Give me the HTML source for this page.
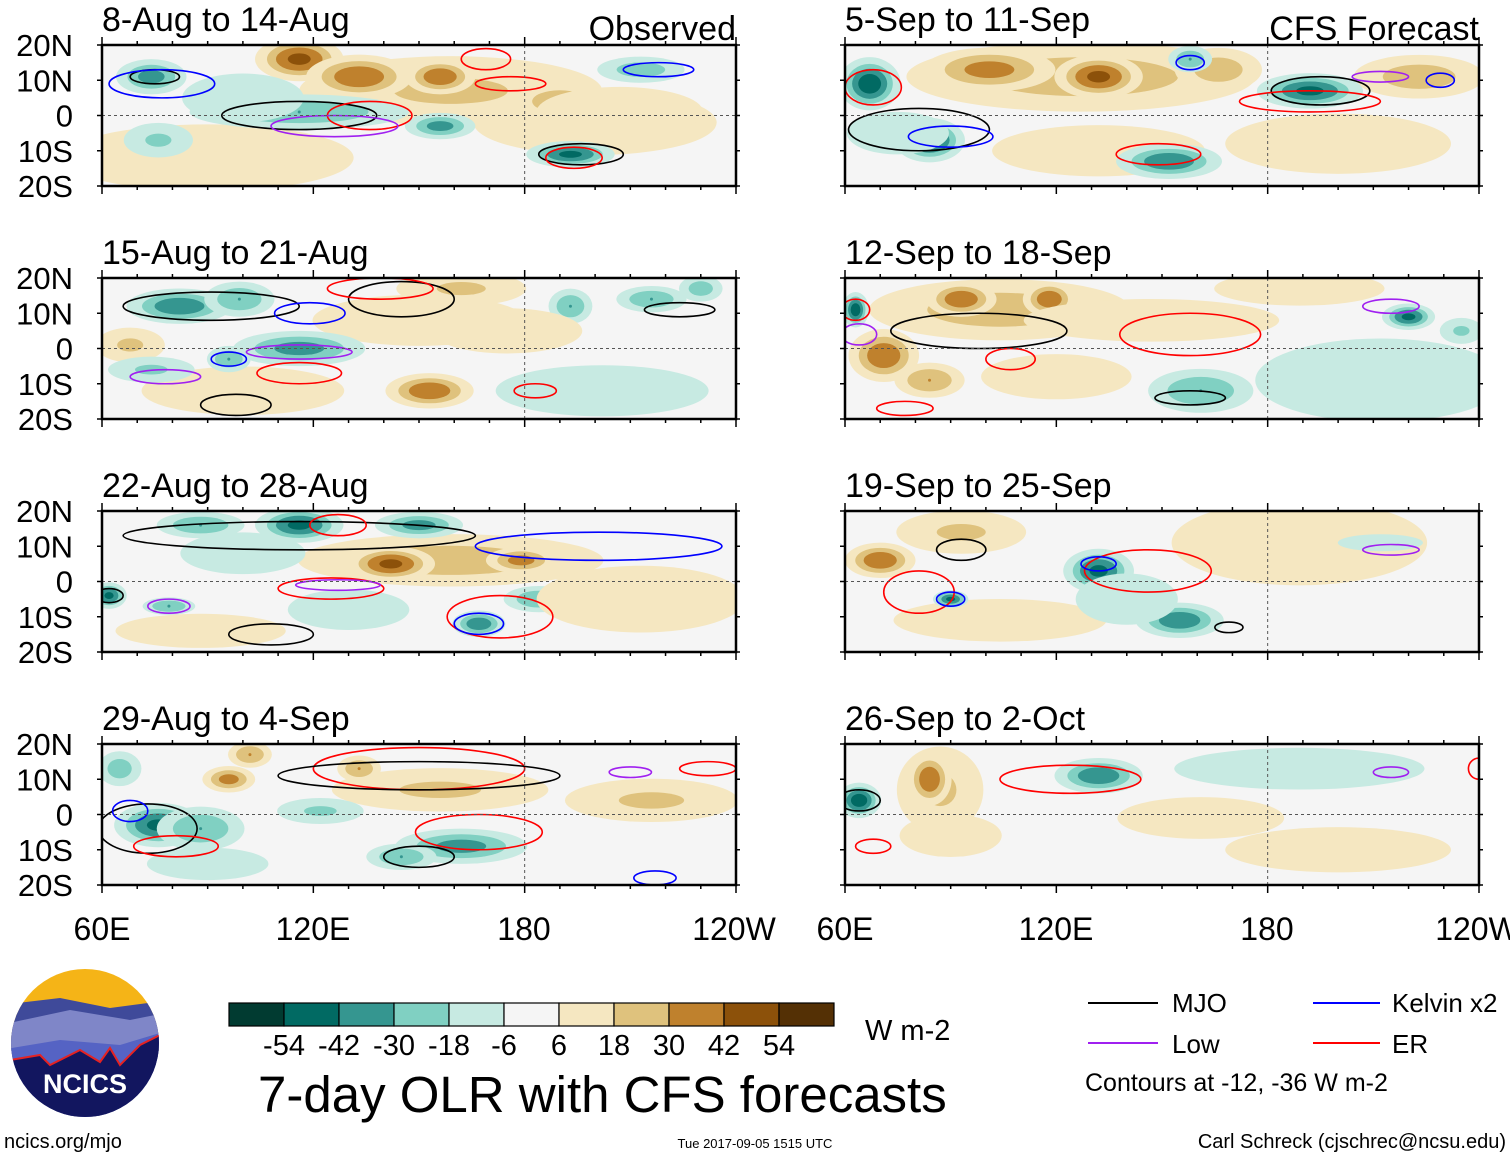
<!DOCTYPE html>
<html><head><meta charset="utf-8"><style>
body{margin:0;background:#fff;}
svg{display:block;font-family:"Liberation Sans",sans-serif;}
</style></head><body>
<svg id="c" width="1510" height="1158" viewBox="0 0 1510 1158" xmlns="http://www.w3.org/2000/svg">
<g id="panels"></g>
<g font-size="32" text-anchor="middle">
<text x="102" y="940">60E</text><text x="313" y="940">120E</text><text x="524" y="940">180</text><text x="734" y="940">120W</text>
<text x="845" y="940">60E</text><text x="1056" y="940">120E</text><text x="1267" y="940">180</text><text x="1477" y="940">120W</text>
</g>
<g id="cbar"></g>
<text x="865" y="1040" font-size="29">W m-2</text>
<text x="258" y="1112" font-size="51">7-day OLR with CFS forecasts</text>
<g font-size="26">
<line x1="1088" y1="1003" x2="1158" y2="1003" stroke="#000" stroke-width="2"/><text x="1172" y="1012">MJO</text>
<line x1="1088" y1="1043" x2="1158" y2="1043" stroke="#a020f0" stroke-width="2"/><text x="1172" y="1053">Low</text>
<line x1="1313" y1="1003" x2="1380" y2="1003" stroke="#0000ff" stroke-width="2"/><text x="1392" y="1012">Kelvin x2</text>
<line x1="1313" y1="1043" x2="1380" y2="1043" stroke="#ff0000" stroke-width="2"/><text x="1392" y="1053">ER</text>
<text x="1085" y="1091" font-size="25">Contours at -12, -36 W m-2</text>
</g>
<g>
<defs><clipPath id="lc"><circle cx="85" cy="1043" r="74"/></clipPath></defs>
<g clip-path="url(#lc)">
<rect x="0" y="960" width="170" height="170" fill="#f5b417"/>
<path d="M0 1005 L60 998 L110 1008 L170 1000 L170 1130 L0 1130Z" fill="#3f4a9a"/>
<path d="M0 1025 L70 1010 L130 1020 L170 1012 L170 1130 L0 1130Z" fill="#7f86c8"/>
<path d="M0 1050 L60 1040 L120 1045 L170 1030 L170 1130 L0 1130Z" fill="#5563c4"/>
<path d="M10 1060 L40 1055 L50 1065 L80 1050 L100 1062 L110 1048 L120 1065 L140 1045 L170 1030 L170 1130 L0 1130Z" fill="#12165f" stroke="#e52222" stroke-width="2"/>
</g>
<text x="85" y="1093" font-size="27" font-weight="bold" fill="#fff" text-anchor="middle">NCICS</text>
</g>
<text x="4" y="1148" font-size="20">ncics.org/mjo</text>
<text x="755" y="1148" font-size="13" text-anchor="middle">Tue 2017-09-05 1515 UTC</text>
<text x="1506" y="1148" font-size="20" text-anchor="end">Carl Schreck (cjschrec@ncsu.edu)</text>
</svg>
<script>
// colorbar data
const cbarLabels = ["-54","-42","-30","-18","-6","6","18","30","42","54"];
const cbarColors = ["#013b31","#016a63","#359690","#80d0c2","#c7eae2","#f5f5f5","#f5e7c1","#dfc27d","#bf812d","#8c510a","#543005"];
const levels = [6,18,30,42,54];
const titles = ["8-Aug to 14-Aug","5-Sep to 11-Sep","15-Aug to 21-Aug","12-Sep to 18-Sep","22-Aug to 28-Aug","19-Sep to 25-Sep","29-Aug to 4-Sep","26-Sep to 2-Oct"];
// blobs: [lon, lat, value, rxDeg, ryDeg]
const blobs0 = [[159,7,20,35,8],[90,-12,12,35,8],[200,-2,10,30,8],[116,16,45,10,5],[133,11,40,12,5],[156,11,40,8,4],[190,4,30,10,4],[74,11,-35,8,4],[116,1,-30,25,4],[156,-3,-35,8,3],[193,-11,-45,10,3],[213,13,-25,10,3],[88,-15,15,20,4],[76,-7,-20,8,4],[207,1,12,20,6],[100,5,-10,15,6]];
const blobs1 = [[127,11,25,40,8],[101,13,35,15,5],[132,11,45,10,5],[166,13,25,10,5],[223,11,25,15,5],[132,-10,15,25,6],[200,-8,8,30,8],[67,9,-50,7,6],[84,-7,-50,8,5],[192,7,-45,12,4],[158,16,-30,5,3],[152,-13,-40,12,4],[75,-5,-15,12,5]];
const blobs2 = [[150,8,15,25,6],[162,17,20,15,4],[100,-12,10,25,6],[82,12,-40,12,4],[99,14,-30,8,4],[116,0,-35,15,4],[96,-3,-30,5,3],[153,-12,40,10,4],[193,12,-30,5,4],[216,14,-30,8,3],[230,17,-25,5,3],[68,1,20,8,4],[202,-12,-15,25,6],[74,-6,-20,10,3],[175,5,8,20,6]];
const blobs3 = [[104,11,25,30,7],[93,14,40,8,4],[118,14,40,6,4],[71,-2,40,8,6],[84,-9,30,8,4],[147,8,15,30,5],[220,9,-45,6,3],[212,-9,-12,30,10],[161,-12,-30,12,5],[63,11,-50,3,4],[189,17,15,20,4],[235,5,-20,5,3],[120,-8,8,20,6]];
const blobs4 = [[159,6,25,35,6],[116,16,-45,10,4],[150,16,-35,10,3],[88,16,-30,10,3],[142,5,45,10,4],[179,6,35,8,3],[184,-5,-30,8,3],[167,-12,-40,6,3],[62,-4,-45,4,3],[79,-7,-30,6,2],[88,-14,15,20,4],[213,-5,12,25,8],[100,8,-12,15,5],[130,-8,-10,15,5]];
const blobs5 = [[189,11,15,30,10],[104,-11,15,25,5],[70,6,40,8,4],[93,14,20,15,5],[90,-5,-45,4,2],[132,3,-45,8,5],[155,-11,-40,10,4],[212,11,-15,10,2],[140,-5,-15,12,6]];
const blobs6 = [[156,7,20,25,5],[216,4,20,20,5],[76,-3,-45,10,5],[88,-4,-30,10,5],[96,10,35,6,3],[102,17,30,5,3],[133,13,30,5,3],[162,-9,-35,15,4],[145,-12,-30,8,3],[65,13,-25,5,4],[122,1,-20,10,3],[90,-14,-10,15,4]];
const blobs7 = [[87,7,20,10,10],[161,-1,12,20,5],[189,13,-12,30,5],[64,4,-50,5,4],[84,10,40,5,6],[132,11,-40,10,4],[93,-5,30,5,3],[90,-6,15,12,5],[200,-10,8,30,6]];
// contours: [type, lon, lat, rxDeg, ryDeg]
const cont0 = [["m",75,11,7,2],["k",77,9,15,4],["e",169,16,7,3],["e",176,9,10,2],["k",218,13,10,2],["m",116,0,22,4],["e",136,0,12,4],["l",126,-3,18,3],["m",196,-11,12,3],["e",194,-12,8,3]];
const cont1 = [["m",81,-4,20,6],["k",90,-6,12,3],["e",68,8,8,5],["e",149,-11,12,3],["m",195,7,14,4],["e",192,4,20,3],["k",158,15,4,2],["l",212,11,8,1.5],["k",229,10,4,2]];
const cont2 = [["m",91,12,25,4],["m",145,14,15,5],["k",119,10,10,3],["e",139,17,15,3],["l",116,-1,15,2],["e",116,-7,12,3],["m",224,11,10,2],["e",183,-12,6,2],["l",78,-8,10,2],["k",96,-3,5,2],["m",98,-16,10,3]];
const cont3 = [["m",98,5,25,5],["e",158,4,20,6],["e",107,-3,7,3],["m",158,-14,10,2],["l",215,12,8,2],["l",64,4,5,3],["e",77,-17,8,2],["e",63,11,4,3]];
const cont4 = [["m",116,13,50,4],["e",127,16,8,3],["k",201,10,35,4],["e",173,-10,15,6],["e",125,-2,15,3],["l",127,-1,12,1.5],["k",167,-12,7,3],["m",108,-15,12,3],["m",62,-4,4,2],["l",79,-7,6,2]];
const cont5 = [["m",93,9,7,3],["e",81,-3,10,6],["k",90,-5,4,2],["e",146,3,18,6],["k",132,5,5,2],["m",169,-13,4,1.5],["l",215,9,8,1.5]];
const cont6 = [["m",73,-4,14,7],["e",81,-9,12,3],["k",68,1,5,3],["e",150,13,30,6],["m",150,11,40,4],["e",167,-5,18,5],["m",150,-12,10,3],["l",210,12,6,1.5],["e",232,13,8,2],["k",217,-18,6,2]];
const cont7 = [["m",64,4,6,3],["e",124,10,20,4],["e",68,-9,5,2],["l",215,12,5,1.5],["e",240,13,3,3]];
const allBlobs=[blobs0,blobs1,blobs2,blobs3,blobs4,blobs5,blobs6,blobs7];
const allCont=[cont0,cont1,cont2,cont3,cont4,cont5,cont6,cont7];
const ccol={m:"#000",k:"#0000ff",l:"#a020f0",e:"#ff0000"};
const NS="http://www.w3.org/2000/svg";
function el(t,a,p){const e=document.createElementNS(NS,t);for(const k in a)e.setAttribute(k,a[k]);if(p)p.appendChild(e);return e;}
const W=634,H=141,LON0=60,LON1=240,LAT0=20,LAT1=-20,SPREAD=1.3;
const xs=[102,845], ys=[45,278,511,744];
const root=document.getElementById('panels');
function colorFor(v,i){return v<0?cbarColors[4-i]:cbarColors[6+i];}
for(let p=0;p<8;p++){
  const X0=xs[p%2],Y0=ys[Math.floor(p/2)];
  const sx=lon=>X0+(lon-LON0)/(LON1-LON0)*W;
  const sy=lat=>Y0+(LAT0-lat)/(LAT0-LAT1)*H;
  const kx=W/(LON1-LON0), ky=H/(LAT0-LAT1);
  const g=el('g',{},root);
  
  
  const cp=el('clipPath',{id:'cp'+p},g);el('rect',{x:X0,y:Y0,width:W,height:H},cp);
  const m=el('g',{'clip-path':'url(#cp'+p+')'},g);
  el('rect',{x:X0,y:Y0,width:W,height:H,fill:'#f5f5f5'},m);
  for(const b of allBlobs[p]){
    const [lon,lat,v,rx,ry]=b; const a=Math.abs(v);
    const norm=Math.sqrt(Math.log(a/5));
    levels.forEach((t,i)=>{
      if(a<t)return;
      const r=Math.pow(Math.log(a/t)/Math.log(a/5),0.4);
      const e=el('ellipse',{cx:sx(lon),cy:sy(lat),rx:Math.max(1.5,rx*kx*r*SPREAD),ry:Math.max(1.5,ry*ky*r*SPREAD),fill:colorFor(v,i)},m);
      
      
    });
  }
  for(const c of allCont[p]){
    const [t,lon,lat,rx,ry]=c;
    const e=el('ellipse',{cx:sx(lon),cy:sy(lat),rx:rx*kx,ry:ry*ky,fill:'none',stroke:ccol[t],'stroke-width':1.6},m);
    
    
  }
  el('line',{x1:X0,y1:sy(0),x2:X0+W,y2:sy(0),stroke:'#555','stroke-dasharray':'3,3','stroke-width':1},m);
  el('line',{x1:sx(180),y1:Y0,x2:sx(180),y2:Y0+H,stroke:'#555','stroke-dasharray':'3,3','stroke-width':1},m);
  el('rect',{x:X0,y:Y0,width:W,height:H,fill:'none',stroke:'#000','stroke-width':2.5},g);
  for(let lon=60;lon<=240;lon+=10){const x=sx(lon),L=(lon%60==0)?8:4;
    el('line',{x1:x,y1:Y0,x2:x,y2:Y0-L,stroke:'#000','stroke-width':1.5},g);
    el('line',{x1:x,y1:Y0+H,x2:x,y2:Y0+H+L,stroke:'#000','stroke-width':1.5},g);}
  for(let lat=-20;lat<=20;lat+=10){const y=sy(lat);
    el('line',{x1:X0-5,y1:y,x2:X0,y2:y,stroke:'#000','stroke-width':1.5},g);
    el('line',{x1:X0+W,y1:y,x2:X0+W+4,y2:y,stroke:'#000','stroke-width':1.5},g);
    if(p%2==0){const tx=el('text',{x:X0-29,y:y+11,'font-size':31,'text-anchor':'end'},g);
      tx.textContent=lat==0?'0':Math.abs(lat)+(lat>0?'N':'S');
      if(lat==0)tx.setAttribute('x',X0-29);}}
  const tt=el('text',{x:X0,y:Y0-14,'font-size':34},g);tt.textContent=titles[p];
  
  
  if(p<2){const lb=el('text',{x:X0+W,y:Y0-5,'font-size':34,'text-anchor':'end'},g);lb.textContent=p==0?'Observed':'CFS Forecast';
    
    }
}
const cb=document.getElementById('cbar');
const CX=229,CW=55,CY=1003,CH=23;
cbarColors.forEach((c,i)=>{const r=el('rect',{x:CX+i*CW,y:CY,width:CW,height:CH,fill:c,stroke:'#000','stroke-width':1.2},cb);
  
  });
cbarLabels.forEach((l,i)=>{const t=el('text',{x:CX+(i+1)*CW,y:1055,'font-size':29,'text-anchor':'middle'},cb);t.textContent=l;});
</script>
</body></html>
